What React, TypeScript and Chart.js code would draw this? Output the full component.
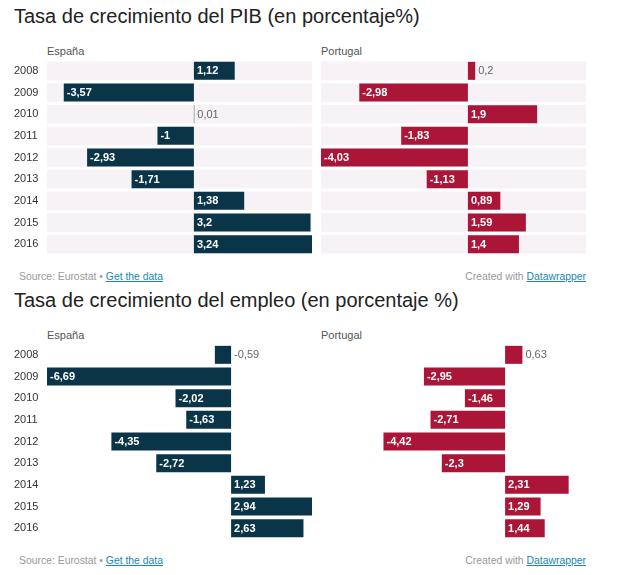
import React, { useEffect, useRef } from "react";
import { Chart, registerables } from "chart.js";

Chart.register(...registerables);

const years = ["2008", "2009", "2010", "2011", "2012", "2013", "2014", "2015", "2016"];
const pibEspana = [1.12, -3.57, 0.01, -1, -2.93, -1.71, 1.38, 3.2, 3.24];
const pibPortugal = [0.2, -2.98, 1.9, -1.83, -4.03, -1.13, 0.89, 1.59, 1.4];
const empleoEspana = [-0.59, -6.69, -2.02, -1.63, -4.35, -2.72, 1.23, 2.94, 2.63];
const empleoPortugal = [0.63, -2.95, -1.46, -2.71, -4.42, -2.3, 2.31, 1.29, 1.44];

const titlePib = "Tasa de crecimiento del PIB (en porcentaje%)";
const titleEmpleo = "Tasa de crecimiento del empleo (en porcentaje %)";

const ESP_COLOR = "#0a3548";
const POR_COLOR = "#ab1538";
const BAND_COLOR = "#f6f2f5";
const FONT = "'Liberation Sans', Arial, Helvetica, sans-serif";

function fmt(v: number): string {
  return String(v).replace(".", ",");
}

const valueLabels = {
  id: "valueLabels",
  afterDatasetsDraw(chart: any) {
    const ctx = chart.ctx;
    const ds = chart.data.datasets[0];
    const meta = chart.getDatasetMeta(0);
    ctx.save();
    ctx.textBaseline = "middle";
    ctx.textAlign = "left";
    meta.data.forEach((el: any, i: number) => {
      const v = ds.data[i] as number;
      const { x, base, y } = el.getProps(["x", "base", "y"], true);
      const left = Math.min(x, base);
      const right = Math.max(x, base);
      const t = fmt(v);
      ctx.font = `bold 11px ${FONT}`;
      const w = ctx.measureText(t).width;
      if (right - left >= w + 6) {
        ctx.fillStyle = "#ffffff";
        ctx.fillText(t, left + 3, y + 0.5);
      } else {
        ctx.font = `11px ${FONT}`;
        ctx.fillStyle = "#666666";
        ctx.fillText(t, right + 3, y + 0.5);
      }
    });
    ctx.restore();
  },
};

type PanelProps = {
  values: number[];
  color: string;
  min: number;
  max: number;
  bands: boolean;
  showYears: boolean;
  left: number;
  top: number;
  width: number;
  height: number;
};

function Panel(p: PanelProps) {
  const ref = useRef<HTMLCanvasElement>(null);
  useEffect(() => {
    if (!ref.current) return;
    const datasets: any[] = [
      {
        data: p.values,
        backgroundColor: p.color,
        barThickness: 18,
        grouped: false,
        inflateAmount: 0,
        order: 1,
      },
    ];
    if (p.bands) {
      datasets.push({
        data: years.map(() => [p.min, p.max]),
        backgroundColor: BAND_COLOR,
        barThickness: 18,
        grouped: false,
        order: 2,
      });
    }
    const chart = new Chart(ref.current, {
      type: "bar",
      data: { labels: years, datasets },
      plugins: [valueLabels],
      options: {
        indexAxis: "y",
        responsive: false,
        animation: false,
        devicePixelRatio: 1,
        layout: { padding: 0 },
        plugins: { legend: { display: false }, tooltip: { enabled: false } },
        scales: {
          x: { type: "linear", min: p.min, max: p.max, display: false },
          y: {
            type: "category",
            display: p.showYears,
            offset: true,
            grid: { display: false },
            border: { display: false },
            ticks: {
              autoSkip: false,
              padding: 0,
              crossAlign: "far",
              color: "#333333",
              font: { family: FONT, size: 11 },
            },
            afterFit: (s: any) => {
              s.width = p.showYears ? 33 : 0;
              s.paddingTop = 0;
              s.paddingBottom = 0;
            },
          },
        },
      } as any,
    });
    return () => chart.destroy();
  }, []);
  return (
    <canvas
      ref={ref}
      width={p.width}
      height={p.height}
      style={{ position: "absolute", left: p.left, top: p.top, width: p.width, height: p.height }}
    />
  );
}

function Section(props: {
  top: number;
  title: string;
  esp: number[];
  por: number[];
  bands: boolean;
}) {
  const all = props.esp.concat(props.por);
  const min = Math.min(...all);
  const max = Math.max(...all);
  const t = props.top;
  const txt = (extra: React.CSSProperties): React.CSSProperties => ({
    position: "absolute",
    fontFamily: FONT,
    whiteSpace: "nowrap",
    ...extra,
  });
  return (
    <>
      <div style={txt({ left: 14, top: t + 6, fontSize: 20, lineHeight: "20px", color: "#222" })}>
        {props.title}
      </div>
      <div style={txt({ left: 47, top: t + 46, fontSize: 11, lineHeight: "11px", color: "#555" })}>España</div>
      <div style={txt({ left: 321, top: t + 46, fontSize: 11, lineHeight: "11px", color: "#555" })}>Portugal</div>
      <Panel
        values={props.esp}
        color={ESP_COLOR}
        min={min}
        max={max}
        bands={props.bands}
        showYears={true}
        left={14}
        top={t + 60}
        width={298}
        height={195}
      />
      <Panel
        values={props.por}
        color={POR_COLOR}
        min={min}
        max={max}
        bands={props.bands}
        showYears={false}
        left={321}
        top={t + 60}
        width={265}
        height={195}
      />
      <div style={txt({ left: 19, top: t + 271, fontSize: 10.4, lineHeight: "11px", color: "#999" })}>
        Source: Eurostat •{" "}
        <span style={{ color: "#1a87b5", textDecoration: "underline" }}>Get the data</span>
      </div>
      <div
        style={txt({ right: 619 - 586, top: t + 271, fontSize: 10.4, lineHeight: "11px", color: "#999" })}
      >
        Created with <span style={{ color: "#1a87b5", textDecoration: "underline" }}>Datawrapper</span>
      </div>
    </>
  );
}

export default function App() {
  return (
    <div
      style={{
        position: "fixed",
        left: 0,
        top: 0,
        width: 619,
        height: 575,
        background: "#fff",
        overflow: "hidden",
      }}
    >
      <Section top={0} title={titlePib} esp={pibEspana} por={pibPortugal} bands={true} />
      <Section top={284} title={titleEmpleo} esp={empleoEspana} por={empleoPortugal} bands={false} />
    </div>
  );
}
